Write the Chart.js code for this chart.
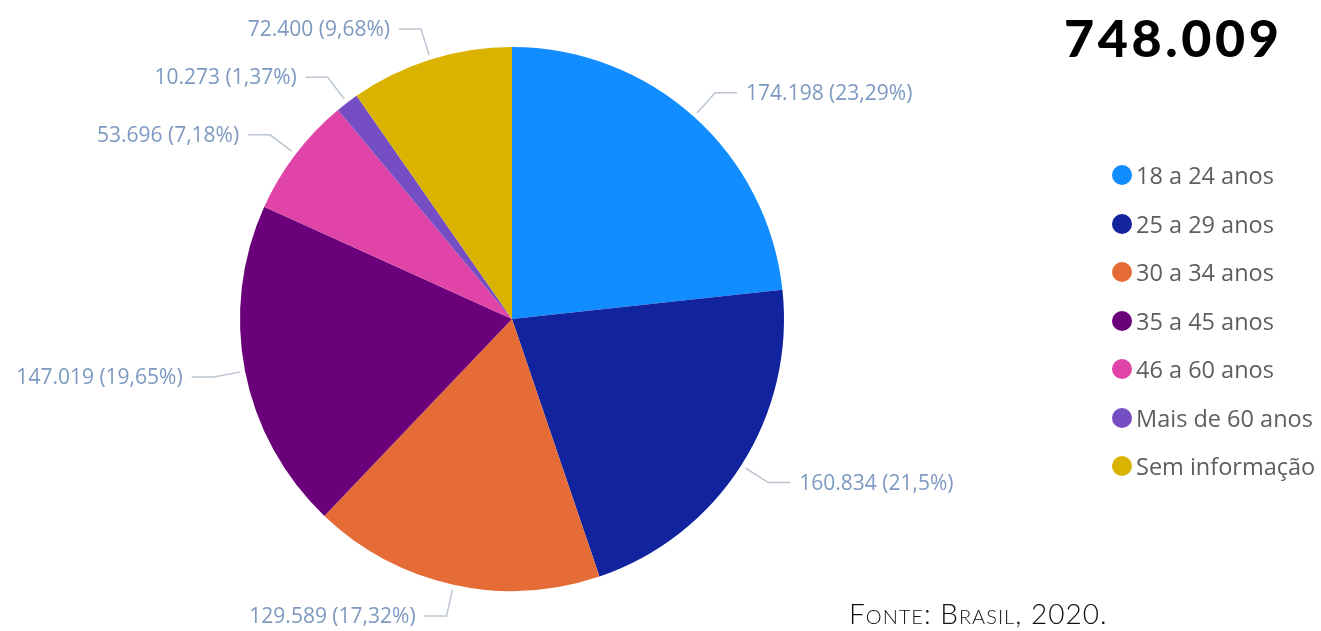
<!DOCTYPE html>
<html>
<head>
<meta charset="utf-8">
<script src="https://cdn.jsdelivr.net/npm/chart.js@4"></script>
<style>
  html, body { margin: 0; padding: 0; background: #fff; }
  #wrap { position: relative; width: 1321px; height: 631px; overflow: hidden; }
  #c { position: absolute; left: 0; top: 0; }
  #total { position: absolute; left: 1064px; top: 6px; font: 900 52px Lato, sans-serif; letter-spacing: 3.6px; color: #000; }
  #legend { position: absolute; left: 1112px; top: 151px; }
  .item { height: 48.5px; display: flex; align-items: center; font: 23.5px "Open Sans", sans-serif; color: #605e5c; white-space: nowrap; }
  .dot { width: 20px; height: 20px; border-radius: 50%; margin-right: 4px; }
  #fonte { position: absolute; left: 849px; top: 596px; font: 300 28px Lato, sans-serif; font-variant: small-caps; letter-spacing: 1px; color: #111; }
</style>
</head>
<body>
<div id="wrap">
  <canvas id="c" width="1321" height="631"></canvas>
  <div id="total"></div>
  <div id="legend"></div>
  <div id="fonte">Fonte: Brasil, 2020.</div>
</div>
<script>
// faixas etárias (ordem do gráfico, sentido horário a partir do topo)
const faixas = ['18 a 24 anos', '25 a 29 anos', '30 a 34 anos', '35 a 45 anos', '46 a 60 anos', 'Mais de 60 anos', 'Sem informação'];
const valores = [174198, 160834, 129589, 147019, 53696, 10273, 72400];
const cores = ['#118dff', '#12239e', '#e66c37', '#6b007b', '#e044a7', '#744ec2', '#d9b300'];

const total = valores.reduce((a, b) => a + b, 0);

/* --- formatação pt-BR --- */
function fmtMil(n) {
    return String(n).replace(/\B(?=(\d{3})+(?!\d))/g, '.');
}
function fmtPct(v) {
    let s = (v * 100).toFixed(2).replace(/0+$/, '').replace(/\.$/, '');
    return s.replace('.', ',') + '%';
}

document.getElementById('total').textContent = fmtMil(total);

// legenda
const leg = document.getElementById('legend');
faixas.forEach((f, i) => {
    const d = document.createElement('div');
    d.className = 'item';
    d.innerHTML = `<span class="dot" style="background:${cores[i]}"></span>${f}`;
    leg.appendChild(d);
});

/* --- rótulos com linhas de chamada --- */
const rotulos = {
    id: 'rotulos',
    afterDatasetsDraw(chart) {
        const ctx = chart.ctx;
        const meta = chart.getDatasetMeta(0);
        ctx.save();
        ctx.font = '21px "Open Sans", sans-serif';
        ctx.textBaseline = 'middle';
        meta.data.forEach((arc, i) => {
            const mid = (arc.startAngle + arc.endAngle) / 2;
            const r = arc.outerRadius;
            const cx = arc.x, cy = arc.y;
            const cos = Math.cos(mid), sin = Math.sin(mid);
            const x1 = cx + (r + 5) * cos, y1 = cy + (r + 5) * sin;
            const x2 = cx + (r + 32) * cos, y2 = cy + (r + 32) * sin;
            const dir = cos >= 0 ? 1 : -1;
            const x3 = x2 + dir * 22;
            ctx.strokeStyle = '#bcc6d1';
            ctx.lineWidth = 1.5;
            ctx.beginPath();
            ctx.moveTo(x1, y1);
            ctx.lineTo(x2, y2);
            ctx.lineTo(x3, y2);
            ctx.stroke();
            const txt = `${fmtMil(valores[i])} (${fmtPct(valores[i] / total)})`;
            ctx.fillStyle = '#7d99c0';
            ctx.textAlign = dir > 0 ? 'left' : 'right';
            ctx.fillText(txt, x3 + dir * 9, y2 + 1);
        });
        ctx.restore();
    }
};

new Chart(document.getElementById('c').getContext('2d'), {
    type: 'pie',
    data: {
        labels: faixas,
        datasets: [{
            data: valores,
            backgroundColor: cores,
            borderWidth: 0
        }]
    },
    options: {
        animation: false,
        responsive: false,
        layout: { padding: { left: 240, right: 537, top: 47, bottom: 40 } },
        plugins: {
            legend: { display: false },
            tooltip: { enabled: false }
        }
    },
    plugins: [rotulos]
});
</script>
</body>
</html>
